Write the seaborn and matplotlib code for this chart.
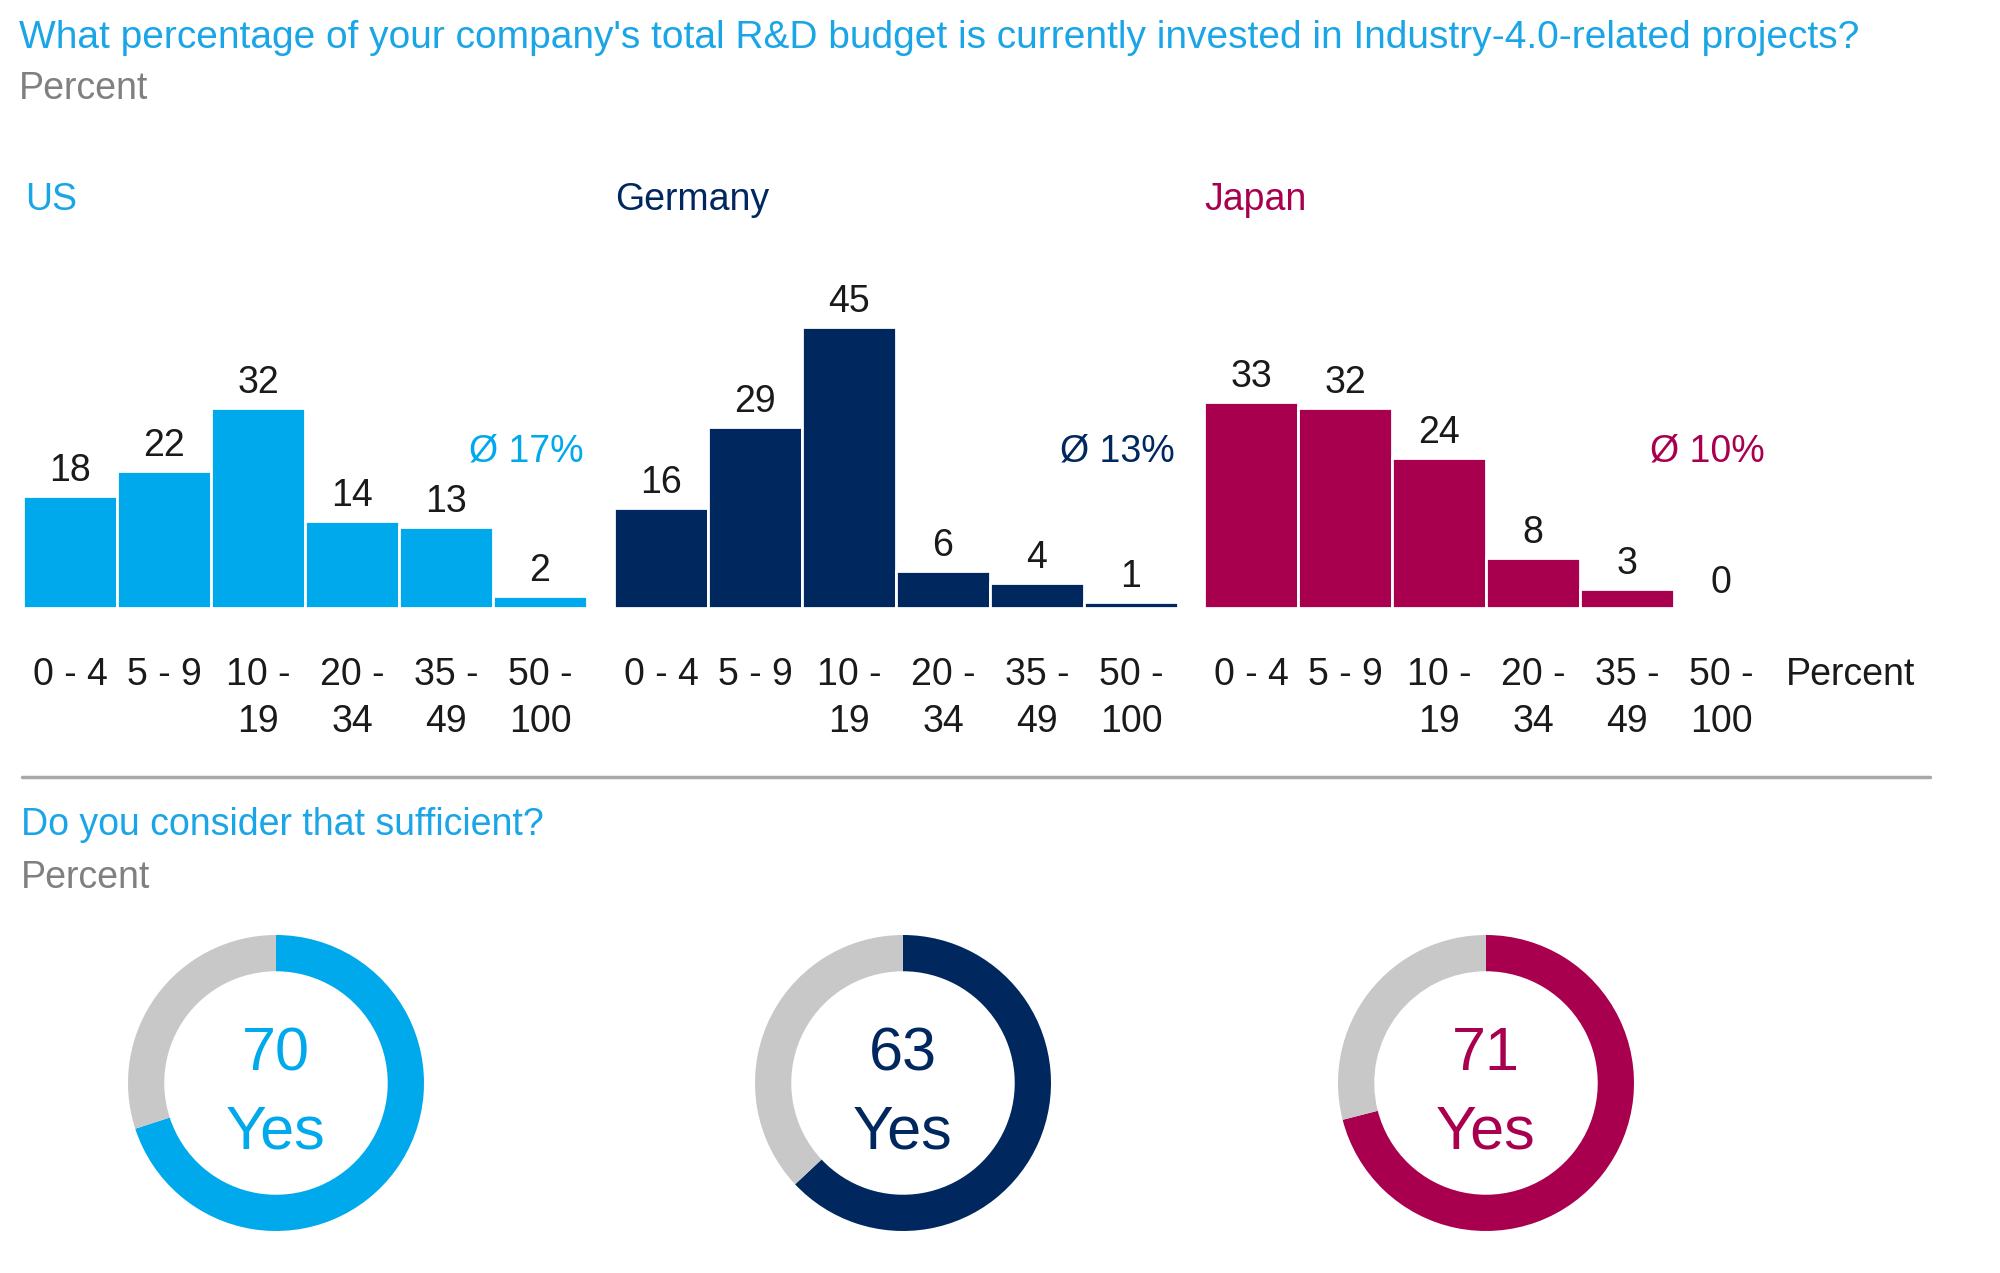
import numpy as np
import pandas as pd
import matplotlib.pyplot as plt
import seaborn as sns
from matplotlib.lines import Line2D

sns.set_style('white')
plt.rcParams['font.family'] = ['Liberation Sans', 'DejaVu Sans']

bins = ['0 - 4', '5 - 9', '10 -\n19', '20 -\n34', '35 -\n49', '50 -\n100']
countries = ['US', 'Germany', 'Japan']
us_vals = [18, 22, 32, 14, 13, 2]
de_vals = [16, 29, 45, 6, 4, 1]
jp_vals = [33, 32, 24, 8, 3, 0]
avg_labels = ['Ø 17%', 'Ø 13%', 'Ø 10%']
yes_share = [70, 63, 71]

colors = ['#00A9EB', '#00285F', '#A8004F']
grey = '#C8C8C8'
title_blue = '#1AA5E6'
text_dark = '#1A1A1A'

W, H = 2000, 1273
fig = plt.figure(figsize=(W / 100, H / 100), dpi=100)


def box(x0, y0, x1, y1):
    # pixel box (top-left origin) -> figure fraction rect
    return [x0 / W, 1 - y1 / H, (x1 - x0) / W, (y1 - y0) / H]


def ftext(x, y, s, **kw):
    fig.text(x / W, 1 - y / H, s, **kw)


ftext(19, 38, "What percentage of your company's total R&D budget is currently invested in Industry-4.0-related projects?",
      color=title_blue, fontsize=28, va='center')
ftext(19, 89, 'Percent', color='#808080', fontsize=27, va='center')

df = pd.DataFrame({'bin': bins * 3,
                   'country': np.repeat(countries, len(bins)),
                   'value': us_vals + de_vals + jp_vals})

lefts = [23, 614, 1204]
name_x = [25, 615, 1204]
for i, c in enumerate(countries):
    x0 = lefts[i]
    ax = fig.add_axes(box(x0, 608 - 50 * 6.25, x0 + 564, 608))
    sub = df[df['country'] == c]
    sns.barplot(data=sub, x='bin', y='value', color=colors[i], saturation=1,
                width=1, edgecolor='white', linewidth=2, ax=ax)
    ax.set_xlim(-0.5, 5.5)
    ax.set_ylim(0, 50)
    for j, v in enumerate(sub['value']):
        ax.annotate(str(v), (j, v), xytext=(0, 18), textcoords='offset points',
                    ha='center', va='center', fontsize=27, color=text_dark)
    ax.text(4.85, 25, avg_labels[i], ha='center', va='center', fontsize=27, color=colors[i])
    sns.despine(ax=ax, left=True, bottom=True)
    ax.set_yticks([])
    ax.set_xlabel('')
    ax.set_ylabel('')
    ax.tick_params(axis='x', length=0, pad=35, labelsize=27, labelcolor=text_dark)
    for lab in ax.get_xticklabels():
        lab.set_linespacing(1.42)
    ftext(name_x[i], 200, c, color=colors[i] if i != 0 else title_blue, fontsize=27, va='center')

ftext(1786, 675, 'Percent', color=text_dark, fontsize=27, va='center')

fig.add_artist(Line2D([22 / W, 1930 / W], [1 - 777 / H, 1 - 777 / H], color='#A8A8A8', linewidth=2.5))

ftext(21, 825, 'Do you consider that sufficient?', color=title_blue, fontsize=27, va='center')
ftext(21, 878, 'Percent', color='#808080', fontsize=27, va='center')

centers = [276, 903, 1486]
r = 148
for i, c in enumerate(countries):
    cx, cy = centers[i], 1083
    ax = fig.add_axes(box(cx - r, cy - r, cx + r, cy + r))
    ax.pie([yes_share[i], 100 - yes_share[i]], colors=[colors[i], grey], startangle=90,
           counterclock=False, radius=1, wedgeprops=dict(width=0.245, edgecolor='none'))
    ax.set_xlim(-1, 1)
    ax.set_ylim(-1, 1)
    ax.text(0, 0.19, str(yes_share[i]), ha='center', va='center', fontsize=44, color=colors[i])
    ax.text(0, -0.34, 'Yes', ha='center', va='center', fontsize=44, color=colors[i])

fig.savefig('out.png', dpi=100)
